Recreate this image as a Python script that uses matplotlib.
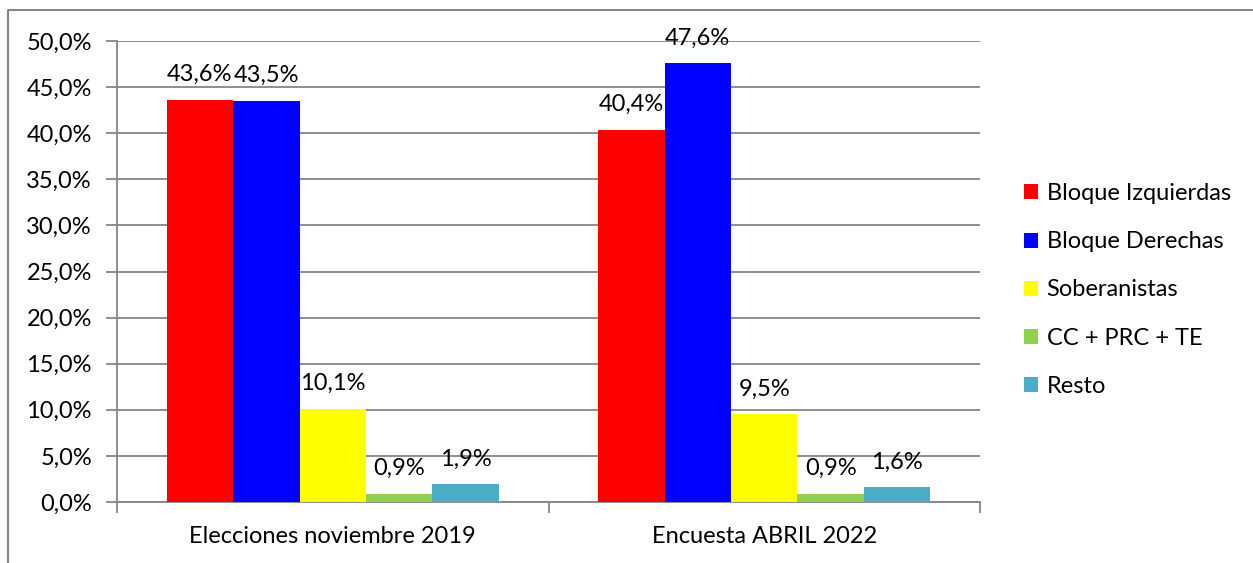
import numpy as np
import matplotlib.pyplot as plt
from matplotlib.patches import Patch
from matplotlib.lines import Line2D

plt.rcParams['font.family'] = ['Lato', 'DejaVu Sans']

categories = ['Elecciones noviembre 2019', 'Encuesta ABRIL 2022']
series = ['Bloque Izquierdas', 'Bloque Derechas', 'Soberanistas', 'CC + PRC + TE', 'Resto']
values = [
    [43.6, 40.4],
    [43.5, 47.6],
    [10.1, 9.5],
    [0.9, 0.9],
    [1.9, 1.6],
]
colors = ['#FF0000', '#0000FF', '#FFFF00', '#92D050', '#4BACC6']

grey = '#868686'
fs = 17

fig = plt.figure(figsize=(12.53, 5.63), dpi=100)
ax = fig.add_axes([117/1253, 1-502/563, 863/1253, 461/563])

x = np.arange(len(categories))
w = 0.154
for i, (name, vals, c) in enumerate(zip(series, values, colors)):
    pos = x + (i - 2) * w
    ax.bar(pos, vals, width=w, color=c, zorder=3, label=name)
    for p, v in zip(pos, vals):
        ax.text(p, v + 1.6, ('%.1f%%' % v).replace('.', ','), ha='center', va='bottom',
                fontsize=fs, zorder=4)

ax.set_xlim(-0.5, 1.5)
ax.set_ylim(0, 50)
ax.set_yticks(np.arange(0, 51, 5))
ax.set_yticklabels([('%.1f%%' % t).replace('.', ',') for t in np.arange(0, 51, 5)], fontsize=fs)
ax.yaxis.grid(True, color=grey, linewidth=1.3, zorder=0)

ax.set_xticks([-0.5, 0.5, 1.5])
ax.set_xticklabels([])
ax.set_xticks(x, minor=True)
ax.set_xticklabels(categories, minor=True, fontsize=fs)
ax.tick_params(axis='x', which='minor', length=0, pad=17)
ax.tick_params(axis='x', which='major', length=8, width=1.3, color=grey)
ax.tick_params(axis='y', length=8, width=1.3, color=grey, pad=10)

for s in ['top', 'right']:
    ax.spines[s].set_visible(False)
for s in ['left', 'bottom']:
    ax.spines[s].set_color(grey)
    ax.spines[s].set_linewidth(1.3)

handles = [Patch(facecolor=c, label=n) for n, c in zip(series, colors)]
fig.legend(handles=handles, loc='center left', bbox_to_anchor=(1003/1253, 1-290/563),
           frameon=False, fontsize=fs, handlelength=0.6, handleheight=0.6,
           handletextpad=0.35, labelspacing=1.15)

# outer chart frame (partially visible)
fig.add_artist(Line2D([8/1253, 8/1253, 1.0], [0.0, 1-10/563, 1-10/563],
                      transform=fig.transFigure, color=grey, linewidth=1.5))

fig.savefig('out.png', dpi=100)
